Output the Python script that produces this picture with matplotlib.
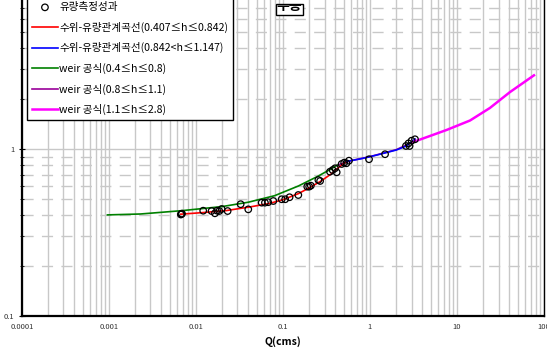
import numpy as np
import matplotlib.pyplot as plt
from matplotlib.patches import Rectangle
from matplotlib.transforms import Bbox, TransformedBbox
from matplotlib.ticker import LogLocator, NullFormatter, FixedLocator, FixedFormatter

plt.rcParams['font.family'] = ['Noto Sans CJK KR', 'DejaVu Sans']

# 유량측정성과 (Q, h)
obs_q = np.array([0.0067, 0.0068, 0.0069, 0.0121, 0.0151, 0.0165, 0.0175, 0.0185,
                  0.0197, 0.0231, 0.0326, 0.0399, 0.0569, 0.0620, 0.0675, 0.0774,
                  0.0966, 0.106, 0.119, 0.150, 0.190, 0.200, 0.209, 0.255, 0.267,
                  0.347, 0.372, 0.396, 0.414, 0.472, 0.505, 0.536, 0.573, 0.975,
                  1.49, 2.59, 2.77, 2.85, 3.01, 3.29])
obs_h = np.array([0.405, 0.408, 0.410, 0.427, 0.425, 0.412, 0.427, 0.425,
                  0.437, 0.425, 0.467, 0.435, 0.477, 0.477, 0.480, 0.488,
                  0.500, 0.500, 0.514, 0.530, 0.595, 0.595, 0.603, 0.652, 0.643,
                  0.731, 0.748, 0.766, 0.725, 0.813, 0.828, 0.821, 0.851, 0.868,
                  0.930, 1.042, 1.080, 1.042, 1.121, 1.143])

# 수위-유량관계곡선 (0.407<=h<=0.842)
red_q = [0.0067, 0.012, 0.0225, 0.042, 0.07, 0.1, 0.15, 0.2, 0.27, 0.36, 0.45, 0.54]
red_h = [0.407, 0.416, 0.428, 0.45, 0.472, 0.497, 0.54, 0.585, 0.64, 0.71, 0.785, 0.842]
# 수위-유량관계곡선 (0.842<h<=1.147)
blue_q = [0.54, 0.8, 1.2, 2.0, 2.6, 3.3]
blue_h = [0.842, 0.875, 0.92, 0.985, 1.04, 1.147]
# weir 공식 (0.4<=h<=0.8)
green_q = [0.00096, 0.0023, 0.0068, 0.02, 0.04, 0.08, 0.15, 0.25, 0.35, 0.42]
green_h = [0.403, 0.408, 0.427, 0.452, 0.48, 0.525, 0.60, 0.685, 0.755, 0.80]
# weir 공식 (0.8<=h<=1.1)
purple_q = [0.42, 0.6, 1.0, 2.0, 3.1]
purple_h = [0.80, 0.85, 0.90, 0.99, 1.10]
# weir 공식 (1.1<=h<=2.8)
mag_q = [3.12, 4.89, 7.61, 14.1, 23.9, 40.6, 76.7]
mag_h = [1.10, 1.196, 1.30, 1.48, 1.76, 2.19, 2.76]

fig = plt.figure(figsize=(5.47, 3.52), dpi=100)
ax = fig.add_axes([0.0402, 0.1023, 0.9543, 0.949])

ax.plot(red_q, red_h, color='red', lw=1.2, label='수위-유량관계곡선(0.407≤h≤0.842)', zorder=4)
ax.plot(purple_q, purple_h, color='#990099', lw=1.2, zorder=3)
ax.plot(blue_q, blue_h, color='blue', lw=1.2, label='수위-유량관계곡선(0.842<h≤1.147)', zorder=4)
ax.plot(green_q, green_h, color='green', lw=1.2, label='weir 공식(0.4≤h≤0.8)', zorder=4)
ax.plot([], [], color='#990099', lw=1.2, label='weir 공식(0.8≤h≤1.1)')
ax.plot(mag_q, mag_h, color='magenta', lw=1.8, label='weir 공식(1.1≤h≤2.8)', zorder=4)
ax.scatter(obs_q, obs_h, s=22, facecolors='none', edgecolors='black', linewidths=0.9,
           label='유량측정성과', zorder=5)

ax.set_xscale('log')
ax.set_yscale('log')
ax.set_xlim(0.0001, 100)
ax.set_ylim(0.1, 10)

ax.xaxis.set_major_locator(FixedLocator([1e-4, 1e-3, 1e-2, 1e-1, 1, 10, 100]))
ax.xaxis.set_major_formatter(FixedFormatter(['0.0001', '0.001', '0.01', '0.1', '1', '10', '100']))
ax.xaxis.set_minor_locator(LogLocator(base=10, subs=np.arange(2, 10)))
ax.xaxis.set_minor_formatter(NullFormatter())
ax.yaxis.set_major_locator(FixedLocator([0.1, 1, 10]))
ax.yaxis.set_major_formatter(FixedFormatter(['0.1', '1', '10']))
ax.yaxis.set_minor_locator(LogLocator(base=10, subs=np.arange(2, 10)))
ax.yaxis.set_minor_formatter(NullFormatter())

ax.grid(True, which='both', axis='x', color='#c8c8c8', lw=1, ls='-')
ax.grid(True, which='major', axis='y', color='#c8c8c8', lw=1, ls='-')
ax.grid(True, which='minor', axis='y', color='#c8c8c8', lw=1, ls=(0, (8, 6)))
ax.set_axisbelow(True)

ax.tick_params(which='both', direction='inout', labelsize=5.5, colors='black', labelcolor='#333333')
ax.tick_params(which='major', length=4)
ax.tick_params(which='minor', length=3)
ax.tick_params(axis='x', which='both', length=0, pad=5)

for s in ['left', 'bottom']:
    ax.spines[s].set_linewidth(1.6)
ax.spines['right'].set_linewidth(1.0)
ax.spines['top'].set_visible(False)

ax.set_xlabel('Q(cms)', fontsize=7.5, fontweight='bold', labelpad=4)

handles, labels = ax.get_legend_handles_labels()
order = [5, 0, 1, 2, 3, 4]
leg = ax.legend([handles[i] for i in order], [labels[i] for i in order],
                loc='lower left', bbox_to_anchor=(0.0096, 0.587), fontsize=7.6,
                frameon=True, fancybox=False, labelspacing=0.9, handlelength=2.5,
                handletextpad=0.1, borderpad=0.45, borderaxespad=0)
leg.get_frame().set_edgecolor('black')
leg.get_frame().set_linewidth(1.0)
leg.get_frame().set_alpha(1)

# 상단 표시 상자 (글자 윗부분이 상자 테두리에서 잘림)
bx0, by0, bw, bh = 0.4866, 0.901, 0.0517, 0.0335
box = Rectangle((bx0, by0), bw, bh, transform=ax.transAxes,
                fc='white', ec='black', lw=1, zorder=6)
ax.add_patch(box)
lbl = ax.text(bx0 + bw / 2, by0 + 0.006, '수동', transform=ax.transAxes, ha='center',
              va='bottom', fontsize=10, fontweight='bold', zorder=7)
lbl.set_clip_box(TransformedBbox(Bbox([[bx0, by0], [bx0 + bw, by0 + bh]]), ax.transAxes))
lbl.set_clip_on(True)

fig.savefig('out.png', dpi=100)
